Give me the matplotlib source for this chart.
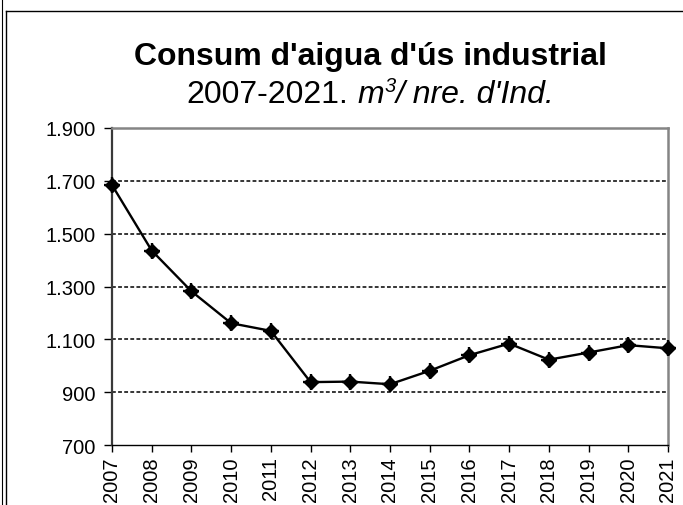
import matplotlib
matplotlib.use('Agg')
import matplotlib.pyplot as plt
from matplotlib.lines import Line2D
from matplotlib.ticker import FuncFormatter

years = ['2007', '2008', '2009', '2010', '2011', '2012', '2013', '2014',
         '2015', '2016', '2017', '2018', '2019', '2020', '2021']
consum = [1684, 1436, 1282, 1161, 1132, 938, 940, 930,
          981, 1040, 1084, 1023, 1050, 1078, 1066]
yticks = [700, 900, 1100, 1300, 1500, 1700, 1900]

TITLE = "Consum d'aigua d'ús industrial"
FONT = 'Liberation Sans'

plt.rcParams['font.family'] = [FONT, 'DejaVu Sans']

W, H = 683, 506
fig = plt.figure(figsize=(W / 100, H / 100), dpi=100)
ax = fig.add_axes([112 / W, 1 - 446 / H, (668 - 112) / W, (446 - 129) / H])

x = list(range(len(years)))
ax.plot(x, consum, color='black', linewidth=1.7, marker='D', markersize=7.5,
        markerfacecolor='black', markeredgecolor='black', zorder=5, clip_on=False)
ax.plot(x, consum, linestyle='none', marker='+', markersize=12,
        markeredgewidth=1.7, color='black', zorder=6, clip_on=False)

ax.set_xlim(0, len(years) - 1)
ax.set_ylim(700, 1900)
ax.set_xticks(x)
ax.set_xticklabels(years, rotation=90, fontsize=14.5)
ax.set_yticks(yticks)
ax.yaxis.set_major_formatter(FuncFormatter(lambda v, p: f'{v:,.0f}'.replace(',', '.')))
ax.tick_params(axis='y', labelsize=14.5, length=6, width=1, direction='out', pad=6)
ax.tick_params(axis='x', length=5, width=1, direction='out', pad=3)

for v in yticks[1:-1]:
    ax.axhline(v, color='black', linewidth=1.1, linestyle=(0, (2.5, 1.5)), zorder=1)

ax.spines['left'].set_color('#3a3a3a')
ax.spines['left'].set_linewidth(1.6)
ax.spines['bottom'].set_color('black')
ax.spines['bottom'].set_linewidth(1.0)
for s in ['top', 'right']:
    ax.spines[s].set_color('#858585')
    ax.spines[s].set_linewidth(1.8)

# outer frame of the original image
fig.add_artist(Line2D([2 / W, 2 / W], [0, 1], color='black', linewidth=0.8))
fig.add_artist(Line2D([6 / W, 6 / W], [0, 1 - 12 / H], color='black', linewidth=1.0))
fig.add_artist(Line2D([6 / W, 1], [1 - 12 / H, 1 - 12 / H], color='black', linewidth=1.0))

cx = 370.5 / W
fig.text(cx, 1 - 65 / H, TITLE, ha='center', va='baseline',
         fontsize=23, fontweight='bold')

# subtitle built from pieces: plain years, italic units with superscript
sub_y = 1 - 103 / H
pieces = [
    ('2007-2021.', 'normal', 23, 0, 9),
    ('m', 'italic', 23, 0, 1),
    ('3', 'italic', 14.5, 11, 0),
    ('/ nre. d\'Ind.', 'italic', 23, 0, 0),
]
fig.canvas.draw()
renderer = fig.canvas.get_renderer()
texts = []
total = 0
for s, style, size, rise, gap in pieces:
    t = fig.text(0, sub_y + rise / H, s, ha='left', va='baseline',
                 fontsize=size, fontstyle=style)
    w = t.get_window_extent(renderer).width
    texts.append((t, w, gap))
    total += w + gap
xpos = cx * W - total / 2
for t, w, gap in texts:
    t.set_x(xpos / W)
    xpos += w + gap

fig.savefig('out.png', dpi=100)
